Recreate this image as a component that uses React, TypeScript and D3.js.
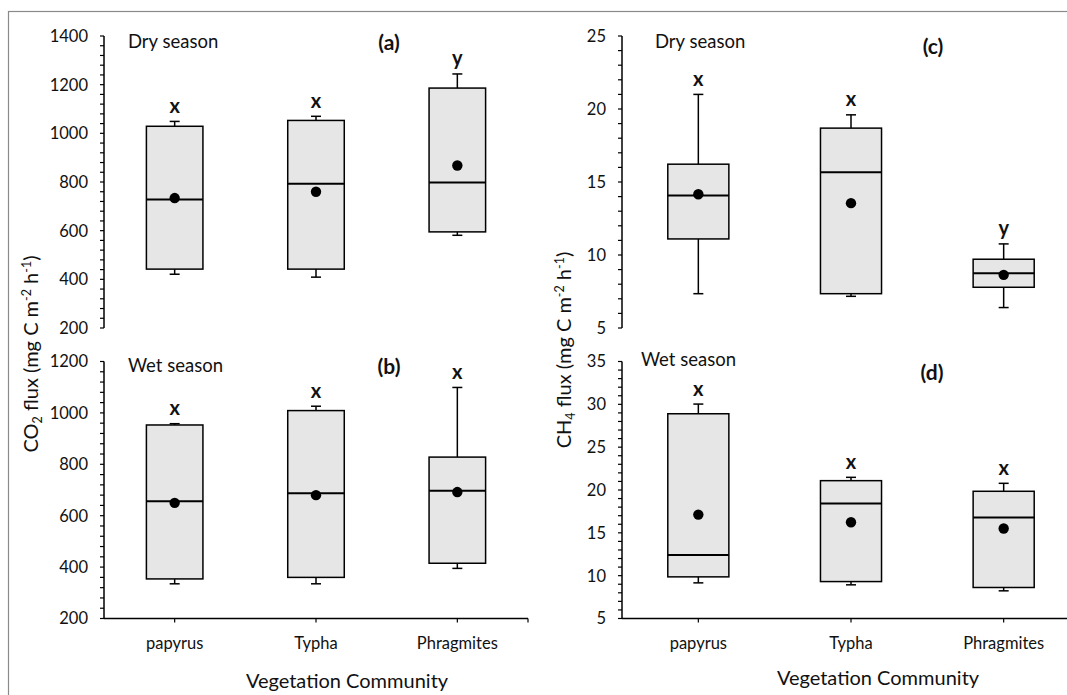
import React from "react";
import * as d3 from "d3";

// ---------- data ----------
const categories = ["papyrus", "Typha", "Phragmites"];

// CO2 flux, dry season (a)
const co2DryLow = [421, 409, 581];
const co2DryQ1 = [442, 442, 595];
const co2DryMedian = [728, 793, 798];
const co2DryQ3 = [1029, 1053, 1186];
const co2DryHigh = [1049, 1070, 1244];
const co2DryMean = [734, 760, 868];
const co2DryLetters = ["x", "x", "y"];

// CO2 flux, wet season (b)
const co2WetLow = [335, 335, 395];
const co2WetQ1 = [354, 360, 415];
const co2WetMedian = [656, 687, 697];
const co2WetQ3 = [953, 1009, 828];
const co2WetHigh = [958, 1026, 1099];
const co2WetMean = [650, 680, 692];
const co2WetLetters = ["x", "x", "x"];

// CH4 flux, dry season (c)
const ch4DryLow = [7.35, 7.17, 6.4];
const ch4DryQ1 = [11.1, 7.35, 7.79];
const ch4DryMedian = [14.07, 15.67, 8.75];
const ch4DryQ3 = [16.22, 18.69, 9.71];
const ch4DryHigh = [21.0, 19.6, 10.76];
const ch4DryMean = [14.16, 13.55, 8.64];
const ch4DryLetters = ["x", "x", "y"];

// CH4 flux, wet season (d)
const ch4WetLow = [9.16, 8.93, 8.23];
const ch4WetQ1 = [9.86, 9.31, 8.62];
const ch4WetMedian = [12.42, 18.41, 16.78];
const ch4WetQ3 = [28.9, 21.09, 19.85];
const ch4WetHigh = [30.03, 21.48, 20.78];
const ch4WetMean = [17.13, 16.23, 15.5];
const ch4WetLetters = ["x", "x", "x"];

const co2DryTicks = [200, 400, 600, 800, 1000, 1200, 1400];
const co2WetTicks = [200, 400, 600, 800, 1000, 1200];
const ch4DryTicks = [5, 10, 15, 20, 25];
const ch4WetTicks = [5, 10, 15, 20, 25, 30, 35];

const panelTags = ["(a)", "(b)", "(c)", "(d)"];
const seasonNames = ["Dry season", "Wet season"];
const xTitle = "Vegetation Community";

// ---------- layout ----------
const W = 1067;
const H = 695;
const FONT = "Lato, 'Open Sans', sans-serif";

type Panel = {
  low: number[]; q1: number[]; median: number[]; q3: number[]; high: number[]; mean: number[];
  letters: string[]; ticks: number[]; minorStep: number;
  x0: number; x1: number; y0: number; y1: number;
  tag: string; tagX: number; tagY: number;
  season: string; seasonX: number; seasonY: number;
  xAxis: boolean;
};

const LEFT = [104, 528];
const RIGHT = [622, 1080];
const TOP = [36, 328];
const BOT = [361.5, 618.5];

const panels: Panel[] = [
  { low: co2DryLow, q1: co2DryQ1, median: co2DryMedian, q3: co2DryQ3, high: co2DryHigh, mean: co2DryMean,
    letters: co2DryLetters, ticks: co2DryTicks, minorStep: 40,
    x0: LEFT[0], x1: LEFT[1], y0: TOP[0], y1: TOP[1],
    tag: panelTags[0], tagX: 389, tagY: 50, season: seasonNames[0], seasonX: 128, seasonY: 48, xAxis: false },
  { low: co2WetLow, q1: co2WetQ1, median: co2WetMedian, q3: co2WetQ3, high: co2WetHigh, mean: co2WetMean,
    letters: co2WetLetters, ticks: co2WetTicks, minorStep: 40,
    x0: LEFT[0], x1: LEFT[1], y0: BOT[0], y1: BOT[1],
    tag: panelTags[1], tagX: 389, tagY: 374, season: seasonNames[1], seasonX: 128, seasonY: 372, xAxis: true },
  { low: ch4DryLow, q1: ch4DryQ1, median: ch4DryMedian, q3: ch4DryQ3, high: ch4DryHigh, mean: ch4DryMean,
    letters: ch4DryLetters, ticks: ch4DryTicks, minorStep: 1,
    x0: RIGHT[0], x1: RIGHT[1], y0: TOP[0], y1: TOP[1],
    tag: panelTags[2], tagX: 933, tagY: 54, season: seasonNames[0], seasonX: 655, seasonY: 48, xAxis: false },
  { low: ch4WetLow, q1: ch4WetQ1, median: ch4WetMedian, q3: ch4WetQ3, high: ch4WetHigh, mean: ch4WetMean,
    letters: ch4WetLetters, ticks: ch4WetTicks, minorStep: 1,
    x0: RIGHT[0], x1: RIGHT[1], y0: BOT[0], y1: BOT[1],
    tag: panelTags[3], tagX: 932, tagY: 380, season: seasonNames[1], seasonX: 641, seasonY: 366, xAxis: true },
];

function PanelView({ p }: { p: Panel }) {
  const x = d3.scaleBand<string>().domain(categories).range([p.x0, p.x1]).padding(0);
  const tMin = p.ticks[0];
  const tMax = p.ticks[p.ticks.length - 1];
  const y = d3.scaleLinear().domain([tMin, tMax]).range([p.y1, p.y0]);
  const minor = d3.range(tMin, tMax + p.minorStep / 2, p.minorStep);
  const bw = x.bandwidth() * 0.4;
  const cap = 10;
  const sw = 1.5;
  return (
    <g>
      {/* y axis */}
      <line x1={p.x0} x2={p.x0} y1={y(tMin)} y2={y(tMax)} stroke="#000" strokeWidth={sw} />
      {minor.map((v, i) => (
        <line key={"mn" + i} x1={p.x0 - 4} x2={p.x0} y1={y(v)} y2={y(v)} stroke="#000" strokeWidth={1.2} />
      ))}
      {p.ticks.map((v) => (
        <text key={"tl" + v} x={p.x0 - 16} y={y(v)} dy="0.36em" textAnchor="end" fontSize={16.5} fill="#111">
          {v}
        </text>
      ))}
      {/* x axis */}
      {p.xAxis && (
        <g>
          <line x1={p.x0} x2={p.x1} y1={y(tMin)} y2={y(tMin)} stroke="#000" strokeWidth={sw} />
          {categories.map((c) => (
            <line key={"xt" + c} x1={x(c)! + x.bandwidth() / 2} x2={x(c)! + x.bandwidth() / 2}
              y1={y(tMin)} y2={y(tMin) + 4} stroke="#000" strokeWidth={1.2} />
          ))}
          <line x1={p.x1} x2={p.x1} y1={y(tMin)} y2={y(tMin) + 4} stroke="#000" strokeWidth={1.2} />
          {categories.map((c) => (
            <text key={"xl" + c} x={x(c)! + x.bandwidth() / 2} y={649} textAnchor="middle" fontSize={16.5} fill="#111">
              {c}
            </text>
          ))}
        </g>
      )}
      {/* boxes */}
      {categories.map((c, i) => {
        const cx = x(c)! + x.bandwidth() / 2;
        return (
          <g key={"bx" + c}>
            <line x1={cx} x2={cx} y1={y(p.high[i])} y2={y(p.q3[i])} stroke="#000" strokeWidth={sw} />
            <line x1={cx} x2={cx} y1={y(p.q1[i])} y2={y(p.low[i])} stroke="#000" strokeWidth={sw} />
            <line x1={cx - cap / 2} x2={cx + cap / 2} y1={y(p.high[i])} y2={y(p.high[i])} stroke="#000" strokeWidth={sw} />
            <line x1={cx - cap / 2} x2={cx + cap / 2} y1={y(p.low[i])} y2={y(p.low[i])} stroke="#000" strokeWidth={sw} />
            <rect x={cx - bw / 2} y={y(p.q3[i])} width={bw} height={y(p.q1[i]) - y(p.q3[i])}
              fill="#e6e6e6" stroke="#000" strokeWidth={sw} />
            <line x1={cx - bw / 2} x2={cx + bw / 2} y1={y(p.median[i])} y2={y(p.median[i])} stroke="#000" strokeWidth={2} />
            <circle cx={cx} cy={y(p.mean[i])} r={5.2} fill="#000" />
            <text x={cx} y={y(p.high[i]) - 8.5} textAnchor="middle" fontWeight="bold" fontSize={20} fill="#111">
              {p.letters[i]}
            </text>
          </g>
        );
      })}
      <text x={p.seasonX} y={p.seasonY} fontSize={18.5} fill="#111">{p.season}</text>
      <text x={p.tagX} y={p.tagY} textAnchor="middle" fontWeight="bold" fontSize={21} fill="#111">{p.tag}</text>
    </g>
  );
}

function YLabel({ x, y, gas, sub }: { x: number; y: number; gas: string; sub: string }) {
  return (
    <text transform={`translate(${x},${y}) rotate(-90)`} textAnchor="middle" fontSize={20} fill="#111">
      {gas}
      <tspan fontSize={12.5} dy={4}>{sub}</tspan>
      <tspan dy={-4}> flux (mg C m</tspan>
      <tspan fontSize={12.5} dy={-7}>-2</tspan>
      <tspan dy={7}> h</tspan>
      <tspan fontSize={12.5} dy={-7}>-1</tspan>
      <tspan dy={7}>)</tspan>
    </text>
  );
}

export default function App() {
  return (
    <svg width={W} height={H} viewBox={`0 0 ${W} ${H}`}
      style={{ position: "absolute", left: 0, top: 0, display: "block", background: "#fff" }}
      fontFamily={FONT}>
      <rect x={0} y={0} width={W} height={H} fill="#fff" />
      <rect x={8.5} y={11.5} width={W + 20} height={H + 20} fill="none" stroke="#8a8a8a" strokeWidth={1.2} />
      {panels.map((p, i) => (
        <PanelView key={i} p={p} />
      ))}
      <YLabel x={38} y={354} gas="CO" sub="2" />
      <YLabel x={571} y={350} gas="CH" sub="4" />
      <text x={347} y={688} textAnchor="middle" fontSize={20} fill="#111">{xTitle}</text>
      <text x={878} y={685} textAnchor="middle" fontSize={20} fill="#111">{xTitle}</text>
    </svg>
  );
}
